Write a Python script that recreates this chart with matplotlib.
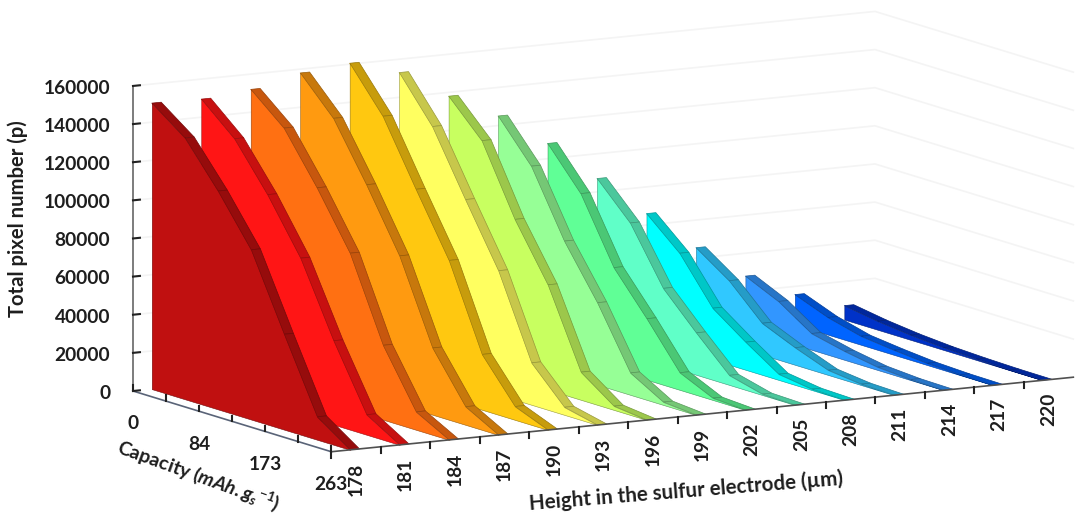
import matplotlib
matplotlib.use("Agg")
import matplotlib.pyplot as plt
import numpy as np
from matplotlib.colors import to_rgb
from mpl_toolkits.mplot3d import proj3d
from mpl_toolkits.mplot3d.art3d import Poly3DCollection

plt.rcParams['font.family'] = ['Lato', 'DejaVu Sans']
plt.rcParams['mathtext.fontset'] = 'custom'
plt.rcParams['mathtext.it'] = 'Lato:italic:bold'
plt.rcParams['mathtext.rm'] = 'Lato:bold'

# DATA: total pixels at the 7 capacity steps, one list per height
heights = [178, 181, 184, 187, 190, 193, 196, 199, 202, 205, 208, 211, 214, 217, 220]
capacity_labels = ["0", "", "84", "", "173", "", "263"]
z_ticks = [0, 20000, 40000, 60000, 80000, 100000, 120000, 140000, 160000]

p178 = [150000, 137000, 114500, 89000, 50000, 12000, 0]
p181 = [149500, 134000, 110000, 82000, 44000, 10500, 0]
p184 = [152000, 137000, 111000, 82000, 39000, 9400, 0]
p187 = [158000, 139500, 110000, 78000, 35000, 9500, 0]
p190 = [160500, 138000, 105000, 73000, 29000, 7000, 0]
p193 = [153000, 130000, 97000, 65000, 22000, 4000, 0]
p196 = [138000, 120000, 84000, 55000, 14500, 2000, 0]
p199 = [125000, 104000, 70000, 43000, 11500, 1500, 0]
p202 = [108000, 87000, 53500, 32000, 9000, 1000, 0]
p205 = [87000, 69000, 40000, 22000, 5000, 500, 0]
p208 = [66000, 50500, 27000, 14500, 3000, 500, 0]
p211 = [45500, 33500, 16500, 9000, 2500, 500, 0]
p214 = [28000, 20000, 8500, 4500, 1500, 300, 0]
p217 = [15700, 9000, 4500, 2500, 900, 200, 0]
p220 = [7300, 4500, 2500, 1200, 500, 100, 0]
series = [p178, p181, p184, p187, p190, p193, p196, p199, p202, p205, p208, p211, p214, p217, p220]

face_colors = ['#C01010', '#FF1515', '#FF7012', '#FF9A10', '#FFC810', '#FFFF60', '#C8FF60', '#96FF96',
               '#60FF96', '#60FFC8', '#00FFFF', '#30C8FF', '#3296FF', '#0064FF', '#0032C8']
text_col = '#1E1E1E'

fig = plt.figure(figsize=(10.76, 5.16), dpi=100)
W, H = 1076, 516

# square axes wider than the figure so nothing gets clipped
ax = fig.add_axes([0, -(W / H - 1) / 2, 1, W / H], projection='3d', computed_zorder=False)
ax.set_proj_type('ortho')
ax.view_init(elev=10.1, azim=-119.8)
ax.set_xlim(0, 15)
ax.set_ylim(6, 0)
ax.set_zlim(0, 160000)
ax.set_axis_off()
ax.patch.set_visible(False)
aspect = (857.7, 400.3, 310.8)


def to_px(x, y, z):
    xs, ys, _ = proj3d.proj_transform(x, y, z, ax.get_proj())
    return ax.transData.transform((xs, ys))


def label3d(x, y, z, s, **kw):
    # text stays 2D so it keeps its own screen position, placed from the 3D point
    p = to_px(x, y, z)
    fig.text(p[0] / W, p[1] / H, s, fontsize=13.8, fontweight='bold', color=text_col, **kw)


# fit the box on the picture: scale first, then shift
ax.set_box_aspect(aspect, zoom=1)
ax.apply_aspect()
a = to_px(0, 0, 0)
b = to_px(15, 0, 0)
ax.set_box_aspect(aspect, zoom=742 / (b[0] - a[0]))
a = to_px(0, 0, 0)
pos = ax.get_position(original=True)
ax.set_position([pos.x0 + (133 - a[0]) / W, pos.y0 + ((H - 391) - a[1]) / H, pos.width, pos.height])
ax.apply_aspect()

# RIBBONS, back to front
k = np.arange(7)
for i in range(14, -1, -1):
    x0 = i + 0.38
    x1 = i + 0.57
    vals = series[i]
    col = np.array(to_rgb(face_colors[i]))
    strip_col = col * 0.78
    edge_col = col * 0.6

    quads = []
    for j in range(6):
        quads.append([(x0, k[j], vals[j]), (x1, k[j], vals[j]), (x1, k[j + 1], vals[j + 1]), (x0, k[j + 1], vals[j + 1])])
    strip = Poly3DCollection(quads, facecolors=strip_col, edgecolors=edge_col, linewidths=0.5, zorder=30 - 2 * i)
    ax.add_collection3d(strip)

    face = [(x0, k[j], vals[j]) for j in range(7)] + [(x0, 0, 0)]
    poly = Poly3DCollection([face], facecolors=col, edgecolors=edge_col, linewidths=0.4, zorder=31 - 2 * i)
    ax.add_collection3d(poly)

# GRID on the two back walls
for z in z_ticks[1:]:
    ax.plot([0, 15, 15], [0, 0, 6], [z, z, z], color='#F4F4F4', lw=1.2, zorder=1)

# AXES lines and ticks
ax.plot([0, 0], [0, 0], [0, 160000], color='#666666', lw=1.2, zorder=50)
ax.plot([0, 0], [0, 6], [0, 0], color='#5A6478', lw=1.2, zorder=50)
ax.plot([0, 15], [6, 6], [0, 0], color='#505050', lw=1.2, zorder=50)

for z in z_ticks:
    ax.plot([0, 0.14], [0, 0], [z, z], color='#222222', lw=1.5, zorder=51)
    label3d(-0.46, 0, z, str(z), ha='right', va='center')

for j in k:
    ax.plot([0, 0], [j, j], [0, 3000], color='#222222', lw=1.5, zorder=51)
    if capacity_labels[j]:
        label3d(0, j, -17200, capacity_labels[j], ha='center', va='center')

for i in range(15):
    ax.plot([i, i], [6, 6], [0, -3200], color='#222222', lw=1.5, zorder=51)
    label3d(i + 0.5, 6, -15600, str(heights[i]), rotation=90, ha='center', va='center')

# AXIS TITLES
fig.text(18 / W, 1 - 219 / H, "Total pixel number (p)", rotation=90, ha='center', va='center',
         fontsize=14.6, fontweight='bold', color=text_col)
fig.text(198 / W, 1 - 475 / H, r"Capacity $\mathit{(mAh.g_{s}{}^{-1})}$", rotation=-20, ha='center', va='center',
         rotation_mode='anchor', fontsize=14, fontweight='bold', color=text_col)
fig.text(686 / W, 1 - 491 / H, "Height in the sulfur electrode (µm)", rotation=4.6, ha='center', va='center',
         rotation_mode='anchor', fontsize=14.8, fontweight='bold', color=text_col)

fig.savefig('out.png', dpi=100, facecolor='white')
